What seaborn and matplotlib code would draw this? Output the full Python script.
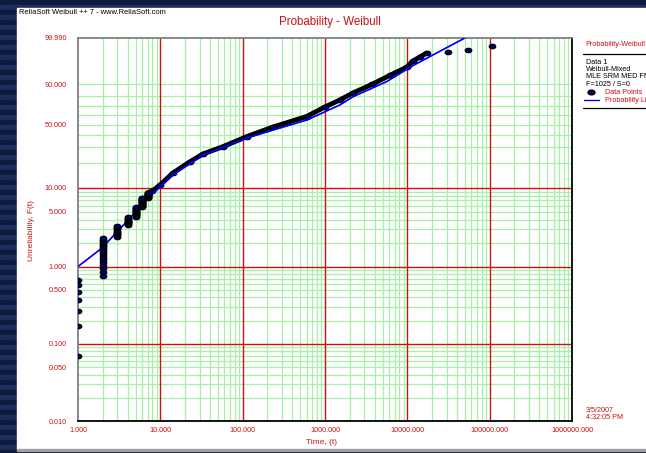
import numpy as np
import pandas as pd
import matplotlib
matplotlib.use("Agg")
import matplotlib.pyplot as plt
import seaborn as sns
from matplotlib.path import Path
from matplotlib.transforms import Affine2D
from matplotlib.patches import Rectangle
from matplotlib.lines import Line2D
from matplotlib.ticker import FixedLocator, FixedFormatter, NullFormatter

sns.set_style("white")
plt.rcParams['font.family'] = ['Liberation Sans', 'DejaVu Sans']

# --- data (time in hours, unreliability in %) ---
# stacked failures at the first integer times
col_times = [1, 2, 3, 4, 5, 6, 7]
col_unrel = [
    [0.07, 0.17, 0.27, 0.37, 0.47, 0.57, 0.67],
    [0.75, 0.85, 0.95, 1.04, 1.14, 1.24, 1.34, 1.43, 1.53, 1.63, 1.73, 1.82,
     1.92, 2.02, 2.12, 2.21, 2.31],
    [2.41, 2.51, 2.60, 2.70, 2.80, 2.90, 2.99, 3.09, 3.19, 3.29],
    [3.38, 3.48, 3.58, 3.68, 3.77, 3.87, 3.97, 4.07, 4.16, 4.26],
    [4.36, 4.46, 4.55, 4.65, 4.75, 4.85, 4.94, 5.04, 5.14, 5.24, 5.33, 5.43,
     5.53, 5.63, 5.72],
    [5.82, 5.92, 6.02, 6.11, 6.21, 6.31, 6.41, 6.50, 6.60, 6.70, 6.80, 6.89,
     6.99, 7.09, 7.19, 7.28, 7.38, 7.48],
    [7.58, 7.67, 7.77, 7.87, 7.97, 8.06, 8.16, 8.26, 8.36, 8.45, 8.55, 8.65],
]

# dense run of data points (reads as one thick band)
chain_time = [7.0, 8.0, 9.9, 14.2, 22.9, 32.9, 57.6, 111.6, 233, 597, 996,
              1514, 2178, 3706, 6124, 9860, 11650, 14200, 17100]
chain_unrel = [8.7, 9.13, 10.8, 15.1, 20.5, 25.1, 30.2, 38.4, 47.6, 58.7, 69.1,
               76.5, 83.2, 90.0, 95.1, 97.9, 99.03, 99.46, 99.72]

# last three isolated failures
tail_time = [31300, 54800, 106000]
tail_unrel = [99.76, 99.85, 99.93]

# fitted mixed-Weibull probability line
line_time = [1.0, 1.94, 3.9, 6.2, 9.9, 14.3, 33, 112, 235, 601, 1515, 2197,
             5590, 11750, 49900]
line_unrel = [1.0, 1.72, 3.76, 6.42, 10.3, 14.5, 24.4, 37.2, 44.6, 54.9, 71.3,
              79.8, 91.8, 98.26, 99.99]

x_major = [1, 10, 100, 1000, 10000, 100000, 1000000]
y_labels = [0.01, 0.05, 0.1, 0.5, 1, 5, 10, 50, 90, 99.99]
y_red = [0.1, 1, 10]
y_green = ([0.02, 0.03, 0.04, 0.05, 0.06, 0.07, 0.08, 0.09] +
           [0.2, 0.3, 0.4, 0.5, 0.6, 0.7, 0.8, 0.9] +
           [2, 3, 4, 5, 6, 7, 8, 9] +
           [20, 30, 40, 50, 60, 70, 80, 90])

RED = '#d01010'
GREEN = '#a8f0a8'
NAVY = '#000070'

W, H = 646, 453


def fx(px):
    return px / W


def fy(py):
    return 1 - py / H


def weib_fwd(F):
    F = np.clip(np.asarray(F, dtype=float), 1e-7, 100 - 1e-9)
    return np.log(-np.log(1 - F / 100.0))


def weib_inv(w):
    return 100.0 * (1 - np.exp(-np.exp(np.asarray(w, dtype=float))))


fig = plt.figure(figsize=(W / 100, H / 100), dpi=100)
fig.patch.set_facecolor('#14244e')
# striped navy backdrop
for i, yy in enumerate(range(0, H, 5)):
    shade = '#0d1a3c' if i % 2 == 0 else '#1d2e5c'
    fig.patches.append(Rectangle((0, fy(yy + 5)), 1, 5 / H, transform=fig.transFigure,
                                 color=shade, zorder=-3))
fig.patches.append(Rectangle((fx(17), fy(449)), 1 - fx(17), (449 - 8) / H,
                             transform=fig.transFigure, color='white', zorder=-2))
fig.patches.append(Rectangle((fx(17), fy(451)), 1 - fx(17), 2 / H,
                             transform=fig.transFigure, color='#a0a0a0', zorder=-2))

ax = fig.add_axes([fx(78), fy(421), fx(572) - fx(78), (421 - 38) / H])
ax.set_facecolor('white')
ax.set_xscale('log')
ax.set_yscale('function', functions=(weib_fwd, weib_inv))
ax.set_xlim(1, 1e6)
ax.set_ylim(0.01, 99.99)

# grid
for d in x_major[1:-1]:
    ax.axvline(d, color=RED, lw=1.0, zorder=1)
    for m in range(2, 10):
        ax.axvline(d / 10 * m, color=GREEN, lw=0.9, zorder=0.5)
for m in range(2, 10):
    ax.axvline(1e5 * m, color=GREEN, lw=0.9, zorder=0.5)
for v in y_green:
    ax.axhline(v, color=GREEN, lw=0.9, zorder=0.5)
for v in y_red:
    ax.axhline(v, color=RED, lw=1.0, zorder=1)

# fitted line
sns.lineplot(x=line_time, y=line_unrel, color='#0000ff', lw=1.0, sort=False,
             estimator=None, ax=ax, zorder=4)

# data points
ell = Path.unit_circle().transformed(Affine2D().scale(1.0, 0.68))
cols = pd.DataFrame({
    'time': [t for t, vals in zip(col_times, col_unrel) for _ in vals],
    'unrel': [v for vals in col_unrel for v in vals],
})
sns.lineplot(x=chain_time, y=chain_unrel, color='black', lw=3.5, sort=False,
             estimator=None, ax=ax, zorder=3, solid_capstyle='round')
sns.scatterplot(data=cols, x='time', y='unrel', marker=ell, s=22, color=NAVY,
                edgecolor='black', linewidth=0.9, ax=ax, zorder=5)
sns.scatterplot(x=chain_time, y=chain_unrel, marker=ell, s=22, color=NAVY,
                edgecolor='black', linewidth=0.9, ax=ax, zorder=3.5)
sns.scatterplot(x=tail_time, y=tail_unrel, marker=ell, s=22, color=NAVY,
                edgecolor='black', linewidth=0.9, ax=ax, zorder=5)

# the blue line passes over the band
sns.lineplot(x=line_time, y=line_unrel, color='#0000ff', lw=1.0, sort=False,
             estimator=None, ax=ax, zorder=3.8)

# ticks
ax.xaxis.set_major_locator(FixedLocator(x_major))
ax.xaxis.set_major_formatter(FixedFormatter([f"{v:.3f}" for v in x_major]))
ax.xaxis.set_minor_locator(FixedLocator(
    [d * m for d in x_major[:-1] for m in range(2, 10)]))
ax.xaxis.set_minor_formatter(NullFormatter())
ax.yaxis.set_major_locator(FixedLocator(y_labels))
ax.yaxis.set_major_formatter(FixedFormatter([f"{v:.3f}" for v in y_labels]))
ax.yaxis.set_minor_locator(FixedLocator([v for v in y_green if v not in y_labels]))
ax.yaxis.set_minor_formatter(NullFormatter())
ax.tick_params(axis='both', which='both', direction='out', length=3, width=0.9,
               labelsize=5.2, labelcolor=RED, color=GREEN)
ax.tick_params(axis='y', which='major', pad=5)
ax.tick_params(axis='x', which='major', pad=1.5)
ax.tick_params(axis='x', which='minor', length=0)
for tk, v in zip(ax.yaxis.get_major_ticks(), y_labels):
    tk.tick1line.set_color(RED if v in y_red else ('#808080' if v in (0.01, 99.99) else GREEN))
for tk, v in zip(ax.xaxis.get_major_ticks(), x_major):
    tk.tick1line.set_color(RED)

for side, c in (('left', '#808080'), ('top', '#808080'), ('bottom', 'black'), ('right', 'black')):
    ax.spines[side].set_visible(True)
    ax.spines[side].set_color(c)
    ax.spines[side].set_linewidth(1.3)

ax.set_xlabel('')
ax.set_ylabel('')

# titles and labels
fig.text(fx(19), fy(12.5), 'ReliaSoft Weibull ++ 7 - www.ReliaSoft.com', fontsize=5.4,
         color='black', va='center', ha='left')
fig.text(fx(330), fy(22), 'Probability - Weibull', fontsize=8.3, color=RED,
         ha='center', va='center')
fig.text(fx(31.5), fy(231), 'Unreliability, F(t)', fontsize=6, color=RED,
         rotation=90, ha='center', va='center')
fig.text(fx(322), fy(442), 'Time, (t)', fontsize=6, color=RED, ha='center', va='center')

# side legend panel (cut by the right edge, as in the original)
fig.text(fx(585.5), fy(44), 'Probability-Weibull', fontsize=5.2, color=RED,
         ha='left', va='center')
fig.add_artist(Line2D([fx(583), 1], [fy(54), fy(54)], color='black', lw=0.9))
for txt, yy in (('Data 1', 62), ('Weibull-Mixed', 69.5), ('MLE SRM MED FM', 77),
                ('F=1025 / S=0', 84.5)):
    fig.text(fx(585.5), fy(yy), txt, fontsize=5.2, color='black', ha='left', va='center')
fig.add_artist(Line2D([fx(591)], [fy(91.5)], marker=ell, markersize=5,
                      markerfacecolor=NAVY, markeredgecolor='black', lw=0))
fig.text(fx(605), fy(92.5), 'Data Points', fontsize=5.2, color=RED, ha='left', va='center')
fig.add_artist(Line2D([fx(584), fx(599)], [fy(100), fy(100)], color='#0000ff', lw=1))
fig.text(fx(605), fy(100), 'Probability Line', fontsize=5.2, color=RED,
         ha='left', va='center')
fig.add_artist(Line2D([fx(583), 1], [fy(108), fy(108)], color='black', lw=0.9))

fig.text(fx(586), fy(410.5), '3/5/2007', fontsize=5.2, color=RED, ha='left', va='center')
fig.text(fx(586), fy(417.5), '4:32:05 PM', fontsize=5.2, color=RED, ha='left', va='center')

fig.savefig('out.png', dpi=100)
